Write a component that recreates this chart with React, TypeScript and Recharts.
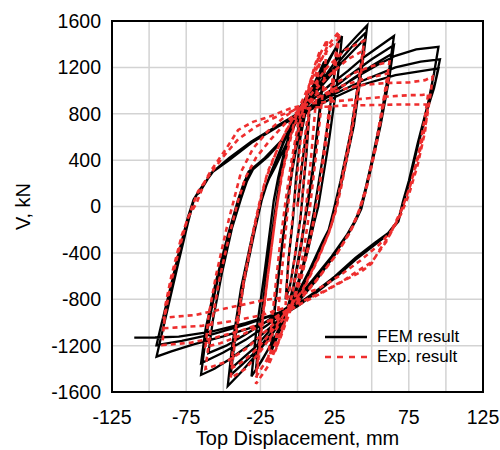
import React from "react";
import { LineChart, Line, XAxis, YAxis, CartesianGrid, ReferenceArea, Legend } from "recharts";

type Pt = [number, number];

// FEM result, traced cycle by cycle (displacement mm, shear kN)
const femAmp08: Pt[] = [
  [0, 0], [3, 350], [6, 650], [8, 800], [6, 450], [2, -100], [-2, -450], [-5, -680], [-8, -800],
];
const femAmp18: Pt[] = [
  [-6, -450], [-3, -100], [-1, 250], [2, 600], [6, 850], [12, 1080], [18, 1250],
  [15, 850], [10, 300], [5, -100], [2, -350], [-3, -700], [-9, -980], [-18, -1260],
  [-15, -850], [-10, -300], [-6, 100], [-3, 350], [2, 700], [9, 950], [18, 1200],
  [15, 800], [10, 250], [5, -130], [2, -380], [-3, -720], [-9, -970], [-18, -1220],
];
const femAmp30: Pt[] = [
  [-15, -820], [-10, -280], [-6, 120], [-3, 380], [1, 720], [8, 930], [18, 1180], [25, 1350], [30, 1470],
  [27, 1100], [21, 550], [14, 0], [11, -150], [7, -380], [0, -700], [-6, -880], [-15, -1120], [-24, -1330], [-31, -1465],
  [-28, -1100], [-22, -550], [-16, 50], [-13, 250], [-8, 520], [-1, 800], [8, 990], [18, 1200], [27, 1395],
  [24, 1050], [18, 500], [11, -50], [8, -250], [3, -550], [-4, -830], [-13, -1080], [-21, -1260], [-28, -1410],
];
const femAmp47: Pt[] = [
  [-25, -1000], [-19, -400], [-14, 60], [-11, 280], [-6, 560], [0, 800], [10, 980], [20, 1150], [30, 1330], [40, 1470], [47, 1563],
  [44, 1250], [38, 700], [31, 280], [26, 0], [23, -150], [19, -260], [10, -520], [0, -780], [-6, -890], [-16, -1080], [-28, -1280], [-38, -1430], [-47, -1548],
  [-44, -1200], [-38, -700], [-31, -280], [-25, 40], [-22, 150], [-18, 290], [-10, 540], [-1, 800], [8, 940], [18, 1090], [28, 1250], [38, 1400], [46, 1500],
  [43, 1200], [37, 680], [30, 250], [25, -30], [22, -180], [18, -290], [9, -540], [-1, -790], [-7, -900], [-17, -1080], [-28, -1250], [-37, -1360], [-45, -1453],
  [-42, -1130], [-36, -650], [-29, -220], [-24, 60], [-21, 180], [-17, 310], [-9, 560], [0, 800], [9, 930], [19, 1080], [29, 1230], [38, 1350], [45, 1440],
  [42, 1150], [36, 650], [29, 220], [24, -50], [21, -200], [17, -300], [8, -550], [-2, -800], [-8, -900], [-18, -1060], [-29, -1220], [-38, -1320], [-45, -1400],
];
const femAmp65: Pt[] = [
  [-42, -1080], [-36, -620], [-29, -180], [-24, 80], [-20, 220], [-15, 340], [-6, 580], [1, 790], [10, 920], [22, 1050], [34, 1170], [45, 1290], [55, 1380], [65, 1470],
  [62, 1200], [56, 750], [49, 330], [43, 0], [39, -116], [34, -230], [25, -420], [13, -630], [2, -800], [-6, -900], [-18, -1040], [-32, -1190], [-46, -1320], [-56, -1400], [-65, -1453],
  [-62, -1150], [-55, -700], [-47, -280], [-40, 50], [-36, 200], [-33, 300], [-22, 420], [-10, 580], [0, 760], [10, 880], [22, 1000], [35, 1130], [50, 1270], [65, 1393],
  [62, 1120], [56, 700], [49, 300], [43, -20], [39, -130], [34, -240], [24, -420], [12, -620], [1, -790], [-7, -890], [-20, -1020], [-35, -1150], [-50, -1260], [-65, -1352],
  [-62, -1060], [-55, -650], [-47, -250], [-40, 60], [-36, 210], [-32, 310], [-21, 430], [-9, 590], [0, 740], [10, 850], [23, 970], [37, 1100], [51, 1220], [64, 1320],
  [61, 1050], [55, 650], [48, 260], [42, -30], [38, -140], [33, -250], [23, -430], [11, -620], [0, -790], [-8, -880], [-22, -1000], [-36, -1110], [-48, -1200], [-60, -1264],
];
const femAmp95: Pt[] = [
  [-57, -980], [-51, -580], [-44, -180], [-38, 70], [-34, 220], [-30, 320], [-20, 430], [-8, 600], [1, 780], [12, 900], [25, 1000], [40, 1120], [55, 1230], [66, 1300], [80, 1355], [95, 1378],
  [92, 1150], [88, 890], [81, 546], [75, 220], [71, 40], [68, -116], [61, -240], [52, -330], [39, -460], [25, -620], [12, -750], [0, -860], [-12, -950], [-30, -1040], [-50, -1120], [-70, -1190], [-85, -1250], [-95, -1295],
  [-92, -1130], [-86, -800], [-80, -470], [-74, -150], [-70, 50], [-68, 100], [-65, 160], [-57, 300], [-46, 420], [-31, 560], [-13, 700], [0, 800], [20, 940], [43, 1080], [66, 1200], [83, 1250], [96, 1270],
  [93, 1080], [88, 870], [81, 530], [75, 200], [71, 20], [68, -130], [61, -235], [52, -320], [39, -450], [25, -610], [12, -740], [-1, -850], [-17, -940], [-35, -1020], [-57, -1100], [-78, -1160], [-95, -1195],
  [-92, -1030], [-86, -720], [-80, -400], [-74, -100], [-70, 60], [-68, 100], [-66, 120], [-58, 290], [-46, 400], [-31, 550], [-13, 690], [1, 780], [21, 918], [43, 1048], [66, 1134], [95, 1192],
  [92, 1020], [88, 860], [81, 520], [75, 190], [71, 20], [68, -116], [61, -230], [52, -315], [39, -444], [25, -605], [12, -735], [-2, -864], [-17, -936], [-35, -1006], [-58, -1080], [-80, -1123], [-96, -1130], [-110, -1131],
];

// Experimental result
const expAmp08: Pt[] = [
  [0, 0], [3, 400], [6, 700], [8, 850], [6, 500], [2, -100], [-2, -450], [-5, -700], [-8, -850],
];
const expAmp20: Pt[] = [
  [-6, -450], [-3, -50], [0, 300], [3, 700], [8, 1050], [12, 1230], [15, 1340],
  [13, 1000], [9, 400], [5, -100], [1, -450], [-4, -780], [-9, -1020], [-15, -1250],
  [-13, -900], [-9, -350], [-6, 50], [-3, 400], [2, 750], [8, 1050], [14, 1280], [20, 1440],
  [18, 1100], [13, 500], [8, -50], [4, -400], [-2, -780], [-8, -1000], [-14, -1200], [-20, -1350],
];
const expAmp28: Pt[] = [
  [-17, -950], [-12, -350], [-8, 50], [-4, 400], [1, 750], [8, 1000], [14, 1200], [20, 1380], [28, 1510],
  [25, 1250], [20, 700], [15, 200], [10, -200], [3, -600], [-4, -870], [-12, -1150], [-20, -1380], [-28, -1530],
  [-25, -1150], [-20, -600], [-15, -100], [-11, 250], [-6, 550], [0, 820], [8, 1050], [15, 1250], [22, 1380], [28, 1450],
  [25, 1150], [20, 600], [14, 100], [9, -250], [2, -620], [-5, -880], [-13, -1130], [-21, -1330], [-28, -1470],
];
const expAmp45: Pt[] = [
  [-25, -1100], [-19, -500], [-14, 0], [-10, 300], [-4, 620], [2, 850], [10, 1030], [20, 1200], [32, 1350], [45, 1430],
  [42, 1150], [36, 650], [30, 250], [26, 0], [22, -200], [14, -450], [4, -720], [-4, -860], [-14, -1050], [-25, -1250], [-35, -1400], [-45, -1480],
  [-42, -1150], [-36, -650], [-30, -250], [-25, 50], [-21, 250], [-14, 480], [-6, 700], [1, 830], [10, 980], [22, 1140], [34, 1270], [45, 1350],
  [42, 1080], [36, 600], [30, 200], [26, -30], [21, -230], [13, -470], [3, -730], [-5, -860], [-15, -1040], [-26, -1210], [-36, -1330], [-45, -1400],
];
const expAmp62: Pt[] = [
  [-42, -1080], [-36, -620], [-30, -220], [-25, 70], [-20, 300], [-12, 540], [-4, 740], [2, 850], [12, 960], [25, 1060], [38, 1150], [50, 1210], [62, 1250],
  [59, 1000], [53, 550], [46, 150], [41, -50], [36, -200], [27, -400], [14, -620], [2, -800], [-6, -900], [-20, -1060], [-35, -1230], [-48, -1340], [-62, -1400],
  [-59, -1100], [-53, -650], [-46, -250], [-40, 50], [-35, 250], [-28, 420], [-18, 580], [-8, 720], [0, 820], [12, 930], [27, 1030], [45, 1100], [62, 1150],
  [59, 950], [53, 520], [46, 130], [41, -60], [36, -210], [26, -420], [13, -630], [1, -800], [-8, -900], [-22, -1010], [-38, -1110], [-52, -1180], [-62, -1210],
];
const expAmp91: Pt[] = [
  [-60, -950], [-55, -600], [-48, -200], [-42, 100], [-38, 300], [-30, 500], [-20, 650], [-8, 780], [2, 870], [15, 950], [30, 1010], [45, 1050], [60, 1065], [75, 1070], [86, 1090], [91, 1120],
  [90, 1000], [87, 750], [82, 450], [76, 180], [71, 0], [68, -100], [62, -250], [55, -380], [50, -490], [43, -562], [32, -634], [18, -735], [5, -820], [-6, -900], [-20, -990], [-38, -1070], [-55, -1130], [-72, -1175], [-91, -1195],
  [-90, -1000], [-86, -700], [-80, -380], [-74, -100], [-68, 30], [-62, 228], [-58, 315], [-48, 500], [-40, 660], [-30, 730], [-19, 775], [-4, 850], [10, 890], [27, 910], [45, 930], [59, 947], [75, 960], [84, 962], [88, 970],
  [86, 780], [82, 480], [76, 180], [71, 0], [67, -110], [60, -300], [50, -480], [40, -560], [32, -630], [18, -730], [3, -820], [-10, -880], [-25, -940], [-45, -990], [-65, -1030], [-90, -1050],
  [-89, -850], [-85, -600], [-78, -250], [-71, 0], [-67, 130], [-60, 260], [-50, 430], [-40, 580], [-28, 690], [-15, 770], [-2, 830], [12, 855], [30, 870], [50, 875], [70, 880], [88, 880],
  [86, 650], [81, 360], [75, 100], [70, -60], [64, -200], [55, -330], [42, -470], [28, -600], [14, -710], [0, -770], [-22, -806], [-48, -878], [-69, -936], [-91, -960],
];

const xTicks = [-125, -100, -75, -50, -25, 0, 25, 50, 75, 100, 125];
const xLabelled = [-125, -75, -25, 25, 75, 125];
const yTicks = [-1600, -1200, -800, -400, 0, 400, 800, 1200, 1600];

const toPoints = (loops: Pt[][]) => loops.flat().map(([x, y]) => ({ x, y }));
const femData = toPoints([femAmp08, femAmp18, femAmp30, femAmp47, femAmp65, femAmp95]);
const expData = toPoints([expAmp08, expAmp20, expAmp28, expAmp45, expAmp62, expAmp91]);

const FONT = "'Liberation Sans', Arial, sans-serif";
const RED = "#ee2e2e";

function LegendBox() {
  const row = (dash: boolean, color: string, label: string) => (
    <div style={{ display: "flex", alignItems: "center", height: 20 }}>
      <svg width={42} height={20} style={{ marginRight: 10 }}>
        <line x1={0} y1={10} x2={42} y2={10} stroke={color} strokeWidth={dash ? 2.5 : 2.4} strokeDasharray={dash ? "6 6" : undefined} />
      </svg>
      <span style={{ fontSize: 17, color: "#000", fontFamily: FONT }}>{label}</span>
    </div>
  );
  return (
    <div>
      {row(false, "#000", "FEM result")}
      {row(true, RED, "Exp. result")}
    </div>
  );
}

export default function App() {
  return (
    <div style={{ position: "absolute", left: 0, top: 0, fontFamily: FONT }}>
      <LineChart width={500} height={450} margin={{ top: 21, right: 17, bottom: 0, left: 0 }}>
        <CartesianGrid stroke="#d3d3d3" strokeWidth={1.5} />
        <XAxis
          dataKey="x"
          type="number"
          domain={[-125, 125]}
          ticks={xTicks}
          tickFormatter={(v: number) => (xLabelled.includes(v) ? String(v) : "")}
          height={58}
          axisLine={false}
          tickLine={false}
          tickSize={0}
          tickMargin={18}
          tick={{ fill: "#000", fontSize: 19.5, fontFamily: FONT }}
          interval={0}
          allowDataOverflow
          label={{ value: "Top Displacement, mm", position: "insideBottom", offset: 5, fill: "#000", fontSize: 20, fontFamily: FONT }}
        />
        <YAxis
          type="number"
          domain={[-1600, 1600]}
          ticks={yTicks}
          width={112}
          axisLine={false}
          tickLine={false}
          tickSize={0}
          tickMargin={11}
          interval={0}
          allowDataOverflow
          tick={{ fill: "#000", fontSize: 19.5, fontFamily: FONT }}
          label={{ value: "V, kN", angle: -90, position: "insideLeft", offset: 23, fill: "#000", fontSize: 20, fontFamily: FONT, style: { textAnchor: "middle" } }}
        />
        <ReferenceArea x1={-125} x2={125} y1={-1600} y2={1600} fill="none" stroke="#000" strokeWidth={2} ifOverflow="visible" />
        <Line data={femData} dataKey="y" type="linear" stroke="#000" strokeWidth={2.3} dot={false} isAnimationActive={false} />
        <Line data={expData} dataKey="y" type="linear" stroke={RED} strokeWidth={2.6} strokeDasharray="5 4" dot={false} isAnimationActive={false} />
        <Legend
          layout="vertical"
          align="center"
          verticalAlign="middle"
          content={() => <LegendBox />}
          wrapperStyle={{ left: 325, top: 327, bottom: "auto", right: "auto", width: "auto" }}
        />
      </LineChart>
    </div>
  );
}
